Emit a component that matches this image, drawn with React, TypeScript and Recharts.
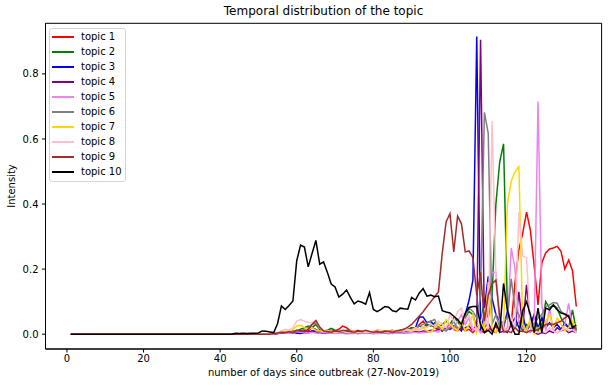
import React from 'react';
import { LineChart, Line, XAxis, YAxis, ReferenceArea } from 'recharts';

// days 1..43: every topic is flat at zero
const quietDays = [
  0, 0, 0, 0, 0, 0, 0, 0, 0, 0,
  0, 0, 0, 0, 0, 0, 0, 0, 0, 0,
  0, 0, 0, 0, 0, 0, 0, 0, 0, 0,
  0, 0, 0, 0, 0, 0, 0, 0, 0, 0,
  0, 0, 0,
];

// days 44..133
const topic1 = [...quietDays,
  0, 0, 0, 0, 0, 0, 0, 0, 0, 0,
  0.001, 0.002, 0.004, 0.003, 0.005, 0.008, 0.006, 0.01, 0.008, 0.006,
  0.01, 0.012, 0.008, 0.01, 0.008, 0.012, 0.01, 0.015, 0.025, 0.02,
  0.01, 0.008, 0.012, 0.006, 0.01, 0.008, 0.006, 0.012, 0.01, 0.008,
  0.01, 0.012, 0.008, 0.01, 0.015, 0.012, 0.02, 0.015, 0.03, 0.04,
  0.025, 0.03, 0.02, 0.015, 0.01, 0.02, 0.03, 0.015, 0.01, 0.02,
  0.01, 0.015, 0.005, 0.02, 0.01, 0.005, 0.02, 0.01, 0.005, 0.03,
  0.02, 0.01, 0.03, 0.16, 0.26, 0.31, 0.375, 0.32, 0.21, 0.09,
  0.22, 0.25, 0.262, 0.265, 0.27, 0.255, 0.2, 0.228, 0.195, 0.085,
];

const topic2 = [...quietDays,
  0, 0, 0, 0, 0, 0, 0, 0, 0, 0,
  0.001, 0.004, 0.006, 0.005, 0.008, 0.006, 0.01, 0.015, 0.02, 0.025,
  0.02, 0.03, 0.015, 0.01, 0.012, 0.018, 0.012, 0.008, 0.01, 0.012,
  0.01, 0.008, 0.006, 0.01, 0.008, 0.006, 0.008, 0.005, 0.006, 0.008,
  0.006, 0.008, 0.01, 0.012, 0.01, 0.015, 0.02, 0.018, 0.025, 0.02,
  0.03, 0.025, 0.035, 0.02, 0.03, 0.04, 0.03, 0.05, 0.04, 0.02,
  0.05, 0.07, 0.06, 0.02, 0.03, 0.11, 0.05, 0.12, 0.4, 0.53,
  0.585, 0.08, 0.03, 0.02, 0.04, 0.01, 0.03, 0.02, 0.06, 0.01,
  0.03, 0.1, 0.08, 0.09, 0.08, 0.05, 0.03, 0.02, 0.075, 0.01,
];

const topic3 = [...quietDays,
  0, 0, 0, 0, 0, 0, 0, 0, 0, 0,
  0, 0.002, 0.005, 0.004, 0.003, 0.006, 0.003, 0.002, 0.005, 0.004,
  0.01, 0.006, 0.003, 0.004, 0.003, 0.005, 0.004, 0.008, 0.005, 0.003,
  0.004, 0.005, 0.003, 0.006, 0.004, 0.003, 0.005, 0.004, 0.006, 0.005,
  0.004, 0.008, 0.006, 0.01, 0.008, 0.012, 0.015, 0.02, 0.053, 0.053,
  0.035, 0.04, 0.025, 0.03, 0.01, 0.02, 0.015, 0.025, 0.02, 0.01,
  0.06, 0.105, 0.166, 0.915, 0.005, 0.08, 0.178, 0.11, 0.06, 0.04,
  0.02, 0.07, 0.03, 0.05, 0.02, 0.06, 0.01, 0.03, 0.06, 0.02,
  0.05, 0.02, 0.035, 0.02, 0.03, 0.015, 0.035, 0.02, 0.015, 0.01,
];

const topic4 = [...quietDays,
  0, 0, 0, 0, 0, 0, 0, 0, 0, 0,
  0.001, 0.003, 0.008, 0.005, 0.006, 0.01, 0.008, 0.006, 0.012, 0.01,
  0.02, 0.015, 0.008, 0.005, 0.004, 0.003, 0.005, 0.004, 0.003, 0.002,
  0.003, 0.004, 0.002, 0.003, 0.004, 0.003, 0.002, 0.003, 0.004, 0.003,
  0.002, 0.004, 0.003, 0.005, 0.004, 0.006, 0.005, 0.008, 0.006, 0.01,
  0.008, 0.012, 0.01, 0.015, 0.01, 0.02, 0.015, 0.025, 0.02, 0.015,
  0.02, 0.025, 0.01, 0.03, 0.905, 0.02, 0.035, 0.01, 0.025, 0.005,
  0.01, 0.005, 0.03, 0.02, 0.13, 0.02, 0.152, 0.04, 0.005, 0,
  0.005, 0.002, 0.01, 0.005, 0.02, 0.01, 0.015, 0.005, 0.01, 0.005,
];

const topic5 = [...quietDays,
  0, 0, 0, 0, 0, 0, 0, 0, 0, 0,
  0.001, 0.003, 0.005, 0.004, 0.003, 0.005, 0.008, 0.006, 0.005, 0.004,
  0.006, 0.004, 0.003, 0.005, 0.004, 0.003, 0.002, 0.004, 0.003, 0.002,
  0.003, 0.002, 0.004, 0.003, 0.002, 0.004, 0.003, 0.002, 0.003, 0.004,
  0.003, 0.002, 0.004, 0.003, 0.005, 0.004, 0.006, 0.005, 0.004, 0.006,
  0.005, 0.008, 0.01, 0.006, 0.02, 0.01, 0.03, 0.015, 0.04, 0.06,
  0.03, 0.05, 0.01, 0.02, 0.005, 0.03, 0.08, 0.19, 0.19, 0.03,
  0.01, 0.02, 0.265, 0.2, 0.03, 0.02, 0.01, 0.005, 0.02, 0.715,
  0.09, 0.01, 0.08, 0.01, 0.005, 0.01, 0.03, 0.095, 0.02, 0.01,
];

const topic6 = [...quietDays,
  0, 0, 0, 0, 0, 0, 0, 0, 0, 0,
  0.001, 0.004, 0.006, 0.008, 0.006, 0.01, 0.012, 0.01, 0.015, 0.02,
  0.03, 0.035, 0.02, 0.01, 0.008, 0.005, 0.006, 0.008, 0.005, 0.004,
  0.006, 0.005, 0.004, 0.006, 0.005, 0.004, 0.006, 0.008, 0.005, 0.004,
  0.006, 0.005, 0.008, 0.006, 0.01, 0.012, 0.015, 0.02, 0.025, 0.03,
  0.035, 0.04, 0.045, 0.02, 0.015, 0.01, 0.02, 0.04, 0.015, 0.03,
  0.05, 0.08, 0.07, 0.05, 0.12, 0.682, 0.617, 0.03, 0.06, 0.02,
  0.04, 0.05, 0.17, 0.08, 0.06, 0.03, 0.01, 0.04, 0.03, 0.05,
  0.06, 0.085, 0.09, 0.097, 0.095, 0.07, 0.06, 0.055, 0.03, 0.01,
];

const topic7 = [...quietDays,
  0, 0, 0, 0, 0, 0, 0, 0, 0, 0,
  0.001, 0.005, 0.01, 0.008, 0.01, 0.015, 0.025, 0.027, 0.02, 0.015,
  0.02, 0.012, 0.01, 0.008, 0.012, 0.006, 0.005, 0.008, 0.01, 0.006,
  0.008, 0.005, 0.006, 0.008, 0.01, 0.006, 0.008, 0.01, 0.012, 0.008,
  0.01, 0.008, 0.012, 0.01, 0.015, 0.012, 0.01, 0.015, 0.012, 0.02,
  0.01, 0.005, 0.02, 0.03, 0.015, 0.045, 0.03, 0.02, 0.01, 0.04,
  0.01, 0.03, 0.06, 0.005, 0.04, 0.01, 0.16, 0.02, 0.005, 0.03,
  0.02, 0.4, 0.47, 0.5, 0.515, 0.03, 0.01, 0.05, 0, 0.02,
  0.01, 0.04, 0.06, 0.02, 0.05, 0.03, 0.01, 0.02, 0.04, 0.02,
];

const topic8 = [...quietDays,
  0, 0, 0, 0, 0, 0, 0, 0, 0, 0,
  0.002, 0.005, 0.01, 0.015, 0.012, 0.02, 0.04, 0.045, 0.04, 0.037,
  0.035, 0.04, 0.02, 0.01, 0.008, 0.01, 0.006, 0.008, 0.01, 0.006,
  0.008, 0.01, 0.006, 0.008, 0.005, 0.007, 0.006, 0.008, 0.01, 0.008,
  0.006, 0.01, 0.008, 0.012, 0.01, 0.015, 0.012, 0.02, 0.015, 0.025,
  0.02, 0.03, 0.025, 0.04, 0.03, 0.02, 0.06, 0.04, 0.07, 0.08,
  0.04, 0.06, 0.02, 0.01, 0.03, 0.08, 0.01, 0.655, 0.18, 0.05,
  0.02, 0.01, 0.05, 0.02, 0.375, 0.24, 0.235, 0.02, 0.01, 0.005,
  0.01, 0.005, 0.02, 0.01, 0.005, 0.01, 0.02, 0.01, 0.015, 0.005,
];

const topic9 = [...quietDays,
  0, 0, 0, 0, 0, 0, 0, 0, 0, 0,
  0.002, 0.004, 0.006, 0.005, 0.008, 0.004, 0.012, 0.01, 0.008, 0.015,
  0.03, 0.042, 0.022, 0.01, 0.008, 0.006, 0.01, 0.008, 0.012, 0.01,
  0.008, 0.006, 0.01, 0.008, 0.012, 0.008, 0.006, 0.008, 0.006, 0.01,
  0.008, 0.006, 0.01, 0.012, 0.015, 0.022, 0.03, 0.043, 0.056, 0.069,
  0.085, 0.1, 0.115, 0.13, 0.25, 0.345, 0.371, 0.253, 0.363, 0.34,
  0.253, 0.256, 0.235, 0.12, 0.19, 0.04, 0.12, 0.155, 0.166, 0.053,
  0.007, 0.01, 0.005, 0.02, 0.008, 0.01, 0.005, 0.012, 0.01, 0.015,
  0.02, 0.03, 0.032, 0.03, 0.035, 0.04, 0.05, 0.058, 0.018, 0.02,
];

const topic10 = [...quietDays,
  0.003, 0.002, 0.003, 0.002, 0.003, 0.003, 0.004, 0.01, 0.009, 0.007,
  0.005, 0.033, 0.087, 0.076, 0.088, 0.102, 0.226, 0.274, 0.268, 0.207,
  0.248, 0.288, 0.215, 0.222, 0.19, 0.154, 0.145, 0.114, 0.123, 0.136,
  0.113, 0.093, 0.102, 0.098, 0.092, 0.128, 0.076, 0.069, 0.076, 0.085,
  0.083, 0.072, 0.069, 0.08, 0.078, 0.077, 0.113, 0.105, 0.127, 0.14,
  0.117, 0.12, 0.115, 0.117, 0.072, 0.068, 0.065, 0.055, 0.045, 0.03,
  0.065, 0.082, 0.085, 0.085, 0.03, 0.005, 0.012, 0, 0.035, 0.007,
  0.156, 0.074, 0.028, 0, 0, 0.072, 0.1, 0.06, 0.005, 0.08,
  0.005, 0.08, 0.075, 0.09, 0.075, 0.065, 0.062, 0.055, 0.02, 0.028,
];

const seriesNames = ['topic 1', 'topic 2', 'topic 3', 'topic 4', 'topic 5', 'topic 6', 'topic 7', 'topic 8', 'topic 9', 'topic 10'];
const seriesValues = [topic1, topic2, topic3, topic4, topic5, topic6, topic7, topic8, topic9, topic10];
const seriesColors = ['#ff0000', '#008000', '#0000ff', '#800080', '#ee82ee', '#808080', '#ffd700', '#ffc0cb', '#a52a2a', '#000000'];

const xTicks = [0, 20, 40, 60, 80, 100, 120];
const yTicks = [0, 0.2, 0.4, 0.6, 0.8];

const chartData = topic1.map((_, i) => {
  const row: Record<string, number> = { day: i + 1 };
  seriesValues.forEach((vals, k) => {
    row['t' + k] = vals[i];
  });
  return row;
});

const FONT = "'DejaVu Sans', sans-serif";
const X_DOMAIN: [number, number] = [-5.6, 139.6];
const Y_DOMAIN: [number, number] = [-0.0455, 0.9555];

const PLOT_LEFT = 45.5;
const PLOT_RIGHT = 601.6;
const PLOT_TOP = 23.3;
const PLOT_BOTTOM = 349;

export default function App() {
  return (
    <div style={{ position: 'absolute', left: 0, top: 0, width: 609, height: 387, background: '#fff', fontFamily: FONT }}>
      <LineChart
        width={609}
        height={387}
        data={chartData}
        margin={{ top: PLOT_TOP, right: 609 - PLOT_RIGHT, bottom: 0, left: 0 }}
        style={{ fontFamily: FONT }}
      >
        <XAxis
          dataKey="day"
          type="number"
          domain={X_DOMAIN}
          ticks={xTicks}
          allowDataOverflow
          height={387 - PLOT_BOTTOM}
          tickSize={3.5}
          tickMargin={2.5}
          stroke="#000"
          tick={{ fill: '#000', fontSize: 10, fontFamily: FONT }}
          tickLine={{ stroke: '#000' }}
          axisLine={{ stroke: '#000' }}
          interval={0}
        />
        <YAxis
          type="number"
          domain={Y_DOMAIN}
          ticks={yTicks}
          allowDataOverflow
          width={PLOT_LEFT}
          tickSize={3.5}
          tickMargin={3.5}
          stroke="#000"
          tick={{ fill: '#000', fontSize: 10, fontFamily: FONT }}
          tickFormatter={(v: number) => v.toFixed(1)}
          tickLine={{ stroke: '#000' }}
          axisLine={{ stroke: '#000' }}
          interval={0}
        />
        {seriesNames.map((name, k) => (
          <Line
            key={name}
            name={name}
            dataKey={'t' + k}
            type="linear"
            stroke={seriesColors[k]}
            strokeWidth={1.5}
            dot={false}
            activeDot={false}
            isAnimationActive={false}
          />
        ))}
        <ReferenceArea
          x1={X_DOMAIN[0]}
          x2={X_DOMAIN[1]}
          y1={Y_DOMAIN[0]}
          y2={Y_DOMAIN[1]}
          fill="none"
          fillOpacity={0}
          stroke="#000"
          strokeWidth={1}
          ifOverflow="visible"
        />
      </LineChart>

      <div
        style={{
          position: 'absolute', left: PLOT_LEFT, width: PLOT_RIGHT - PLOT_LEFT, top: 4,
          textAlign: 'center', fontSize: 12, lineHeight: '14px', color: '#000',
        }}
      >
        Temporal distribution of the topic
      </div>
      <div
        style={{
          position: 'absolute', left: PLOT_LEFT, width: PLOT_RIGHT - PLOT_LEFT, top: 367,
          textAlign: 'center', fontSize: 10, lineHeight: '12px', color: '#000',
        }}
      >
        number of days since outbreak (27-Nov-2019)
      </div>
      <div
        style={{
          position: 'absolute', left: 12 - 50, top: (PLOT_TOP + PLOT_BOTTOM) / 2 - 6, width: 100,
          textAlign: 'center', fontSize: 10, lineHeight: '12px', color: '#000',
          transform: 'rotate(-90deg)',
        }}
      >
        Intensity
      </div>

      <div
        style={{
          position: 'absolute', left: 49.3, top: 28.3, width: 76.4, height: 153.4, boxSizing: 'border-box',
          border: '1px solid #d5d5d5', borderRadius: 3, background: 'rgba(255,255,255,0.8)',
        }}
      >
        {seriesNames.map((name, k) => (
          <div key={name} style={{ position: 'absolute', left: 0, top: 0.4 + k * 15.03, height: 14, width: 76 }}>
            <div style={{ position: 'absolute', left: 2, top: 6, width: 21.4, height: 2, background: seriesColors[k] }} />
            <div style={{ position: 'absolute', left: 30.7, top: 0, fontSize: 10, lineHeight: '14px', color: '#000', whiteSpace: 'nowrap' }}>
              {name}
            </div>
          </div>
        ))}
      </div>
    </div>
  );
}
